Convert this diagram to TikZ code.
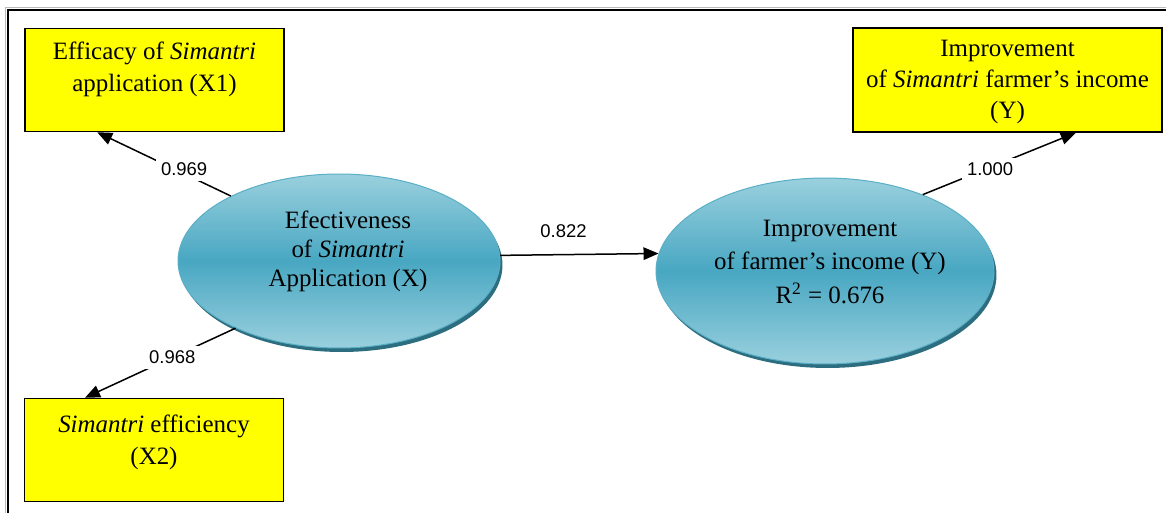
\documentclass[tikz,border=0pt]{standalone}
\usepackage{fontspec}
\setmainfont{Liberation Serif}
\newfontfamily\numfont{Liberation Sans}
\usetikzlibrary{shapes,% ellipse nodes
arrows.meta,%           filled arrow tips
calc,%                  points along box edges
shadows}
\definecolor{boxyellow}{HTML}{FFFF00}
\definecolor{ellLight}{HTML}{9AD0DE}
\definecolor{ellDark}{HTML}{48A7C2}
\definecolor{ellEdge}{HTML}{5AAFC6}
\definecolor{ellShade}{HTML}{2C6E7F}
\tikzset{every node/.style={font=\fontsize{14.2}{18.2}\selectfont},
  indicator/.style={draw, line width=0.03cm, fill=boxyellow, inner sep=0pt,
    minimum width=5.18cm, minimum height=2.06cm},
  construct/.style={ellipse, draw=ellEdge, line width=0.02cm, inner sep=0pt,
    top color=ellLight, bottom color=ellLight, middle color=ellDark,
    drop shadow={shadow xshift=0.05cm, shadow yshift=-0.08cm, fill=ellShade, opacity=1}},
  caption/.style={align=center, inner sep=0pt},
  loading/.style={font=\numfont\fontsize{10.5}{12}\selectfont, fill=white, inner sep=3pt},
  link/.style={line width=0.03cm, -{Triangle[length=0.3cm, width=0.25cm]}}}

\begin{document}
\begin{tikzpicture}[x=0.02cm, y=-0.02cm]
      \useasboundingbox (0,0) rectangle (1166,513);
      \draw[gray!55, line width=0.02cm] (5.5,513) -- (5.5,7.5) -- (1166,7.5);
      \draw[line width=0.03cm] (8,513) -- (8,10) -- (1166,10);
      % indicators
      \node[indicator] (x1) at (154.5,80) {};
      \node[caption] (x1txt) at (154.5,69) {Efficacy of \textit{Simantri}\\application (X1)};
      \node[indicator] (x2) at (154,450) {};
      \node[caption] (x2txt) at (154,442) {\textit{Simantri} efficiency\\(X2)};
      \node[indicator, minimum width=6.18cm, minimum height=2.08cm] (yb) at (1007.5,80) {};
      \node[caption, font=\fontsize{14.2}{17.5}\selectfont] (ybtxt) at (1007.5,82)
        {Improvement\\of \textit{Simantri} farmer’s income\\(Y)};
      % latent variables
      \node[construct, minimum width=6.44cm, minimum height=3.48cm] (ex) at (339,261) {};
      \node[caption, font=\fontsize{14.2}{16.5}\selectfont] (extxt) at (348,251)
        {Efectiveness\\of \textit{Simantri}\\Application (X)};
      \node[construct, minimum width=6.76cm, minimum height=3.72cm] (ey) at (825,271) {};
      \node[caption, font=\fontsize{14.2}{19}\selectfont] (eytxt) at (830,262)
        {Improvement\\of farmer’s income (Y)\\R\textsuperscript{2} = 0.676};
      % loadings and path
      \draw[link] (ex.149) -- node[loading, pos=0.35, yshift=0.1cm] {0.969}
        ($(x1.south west)!0.28!(x1.south east)$);
      \draw[link] (ex.213) -- node[loading, pos=0.42] {0.968}
        ($(x2.north west)!0.235!(x2.north east)$);
      \draw[link] (ex.2.5) -- node[loading, fill=none, pos=0.4, yshift=0.46cm] {0.822} (ey.174);
      \draw[link] (ey.38) -- node[loading, pos=0.44, yshift=-0.04cm] {1.000}
        ($(yb.south west)!0.72!(yb.south east)$);
\end{tikzpicture}
\end{document}
